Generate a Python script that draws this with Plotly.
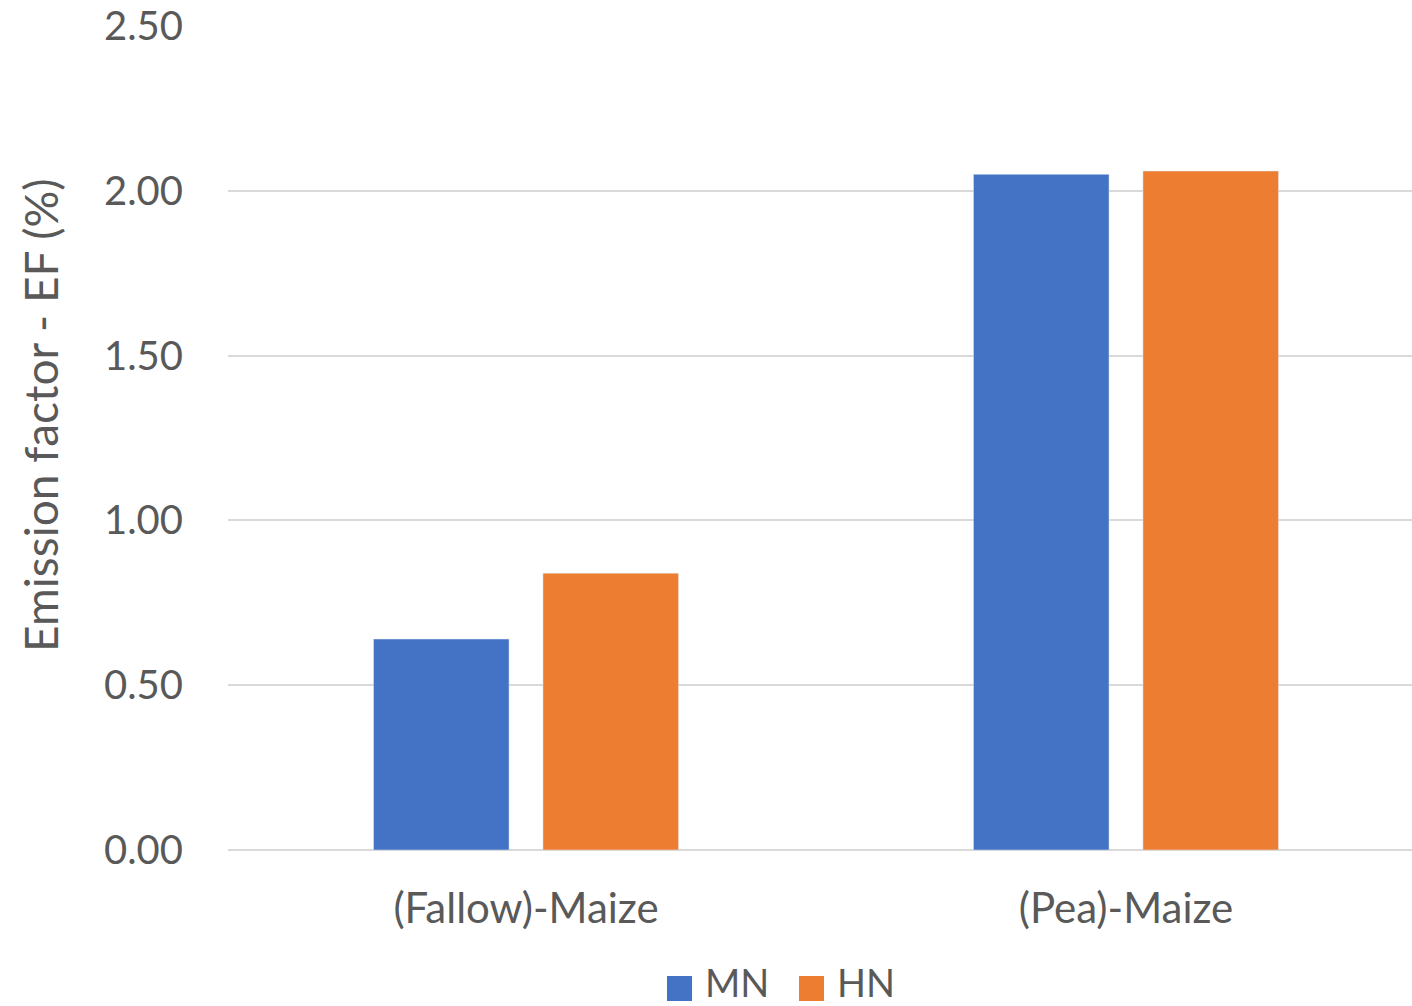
import plotly.graph_objects as go

categories = ["(Fallow)-Maize", "(Pea)-Maize"]
series_names = ["MN", "HN"]
mn_values = [0.64, 2.05]
hn_values = [0.84, 2.06]
series_colors = ["#4472C4", "#ED7D31"]
y_ticks = [0, 0.5, 1.0, 1.5, 2.0, 2.5]
y_tick_labels = ["0.00", "0.50", "1.00", "1.50", "2.00", "2.50"]
y_title = "Emission factor - EF (%)"

FONT = "Lato"
TEXT = "#595959"
W, H = 1412, 1006
ML, MR, MT, MB = 228, 0, 26, 156
PW, PH = W - ML - MR, H - MT - MB


def px_x(x):
    return (x - ML) / PW


def px_y(y):
    return (H - MB - y) / PH


fig = go.Figure()
for name, vals, col in zip(series_names, [mn_values, hn_values], series_colors):
    fig.add_trace(go.Bar(x=categories, y=vals, name=name, marker_color=col,
                         showlegend=False))

# Legend drawn as square swatches plus labels under the axis
legend_left = [667, 799]
for name, col, x0 in zip(series_names, series_colors, legend_left):
    fig.add_shape(type="rect", xref="paper", yref="paper",
                  x0=px_x(x0), x1=px_x(x0 + 25), y0=px_y(1001), y1=px_y(976),
                  fillcolor=col, line_width=0)
    fig.add_annotation(xref="paper", yref="paper", x=px_x(x0 + 36), y=px_y(982),
                       xanchor="left", yanchor="middle", text=name, showarrow=False,
                       font=dict(family=FONT, size=38, color=TEXT))

# Vertical axis title
fig.add_annotation(xref="paper", yref="paper", x=px_x(41), y=px_y(415),
                   xanchor="center", yanchor="middle", textangle=-90,
                   text=y_title, showarrow=False,
                   font=dict(family=FONT, size=46, color=TEXT))

fig.update_layout(
    width=W,
    height=H,
    margin=dict(l=ML, r=MR, t=MT, b=MB, autoexpand=False),
    paper_bgcolor="white",
    plot_bgcolor="white",
    barmode="group",
    bargap=0.435,
    bargroupgap=0.2,
    font=dict(family=FONT, color=TEXT, size=40),
    showlegend=False,
    xaxis=dict(
        range=[-0.4967, 1.4767],
        showgrid=False,
        showline=False,
        ticks="",
        ticklabelstandoff=30,
        tickfont=dict(size=42, color=TEXT),
    ),
    yaxis=dict(
        range=[0, 2.5],
        tickvals=y_ticks,
        ticktext=y_tick_labels,
        showgrid=True,
        gridcolor="#D9D9D9",
        gridwidth=2,
        zeroline=True,
        zerolinecolor="#D9D9D9",
        zerolinewidth=2,
        showline=False,
        ticks="",
        ticklabelstandoff=44,
        tickfont=dict(size=40, color=TEXT),
    ),
)

fig.write_html("out.html")
